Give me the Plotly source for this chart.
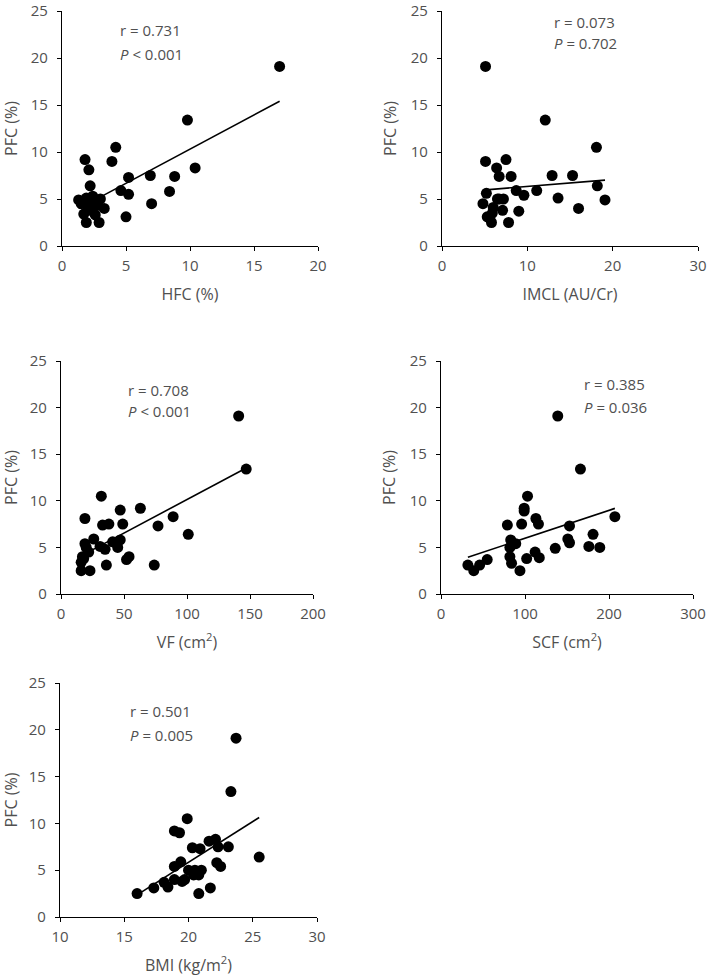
import numpy as np
import plotly.graph_objects as go

# ---------------- data ----------------
hfc = [17.0, 9.8, 4.2, 3.9, 1.8, 2.1, 2.2, 5.2, 6.9, 8.8, 10.4, 4.6, 5.2, 8.4, 7.0,
       5.0, 1.3, 1.9, 2.4, 3.0, 3.3, 2.7, 1.7, 1.9, 2.9, 2.2, 2.6, 1.5, 2.4, 2.0]
pfc_hfc = [19.1, 13.4, 10.5, 9.0, 9.2, 8.1, 6.4, 7.3, 7.5, 7.4, 8.3, 5.9, 5.5, 5.8, 4.5,
           3.1, 4.9, 5.1, 5.3, 5.0, 4.0, 4.3, 3.4, 2.5, 2.5, 3.8, 3.3, 4.5, 4.8, 4.2]

imcl = [5.1, 12.1, 18.1, 5.1, 7.5, 6.4, 6.7, 8.1, 12.9, 15.3, 18.2, 5.2, 4.8, 8.7, 9.6,
        11.1, 13.6, 19.1, 16.0, 6.5, 7.2, 7.1, 9.0, 6.0, 5.3, 5.9, 5.8, 7.8, 6.7, 5.6]
pfc_imcl = [19.1, 13.4, 10.5, 9.0, 9.2, 8.3, 7.4, 7.4, 7.5, 7.5, 6.4, 5.6, 4.5, 5.9, 5.4,
            5.9, 5.1, 4.9, 4.0, 5.0, 5.0, 3.8, 3.7, 4.1, 3.1, 3.5, 2.5, 2.5, 5.0, 3.0]

vf = [141, 147, 32, 47, 63, 19, 33, 38, 49, 77, 89, 101, 26, 19, 41,
      47, 45, 31, 35, 22, 17, 16, 52, 54, 36, 74, 16, 23, 20, 18]
pfc_vf = [19.1, 13.4, 10.5, 9.0, 9.2, 8.1, 7.4, 7.5, 7.5, 7.3, 8.3, 6.4, 5.9, 5.4, 5.6,
          5.8, 5.0, 5.1, 4.8, 4.5, 4.0, 3.4, 3.7, 4.0, 3.1, 3.1, 2.5, 2.5, 5.0, 3.8]

scf = [139, 166, 103, 99, 99, 79, 96, 113, 116, 153, 207, 181, 83, 151, 153,
       89, 82, 136, 176, 189, 112, 117, 82, 84, 102, 94, 32, 39, 46, 55]
pfc_scf = [19.1, 13.4, 10.5, 9.2, 8.9, 7.4, 7.5, 8.1, 7.5, 7.3, 8.3, 6.4, 5.8, 5.9, 5.5,
           5.4, 5.0, 4.9, 5.1, 5.0, 4.5, 3.9, 4.0, 3.3, 3.8, 2.5, 3.1, 2.5, 3.1, 3.7]

bmi = [16.0, 17.3, 18.1, 18.4, 18.9, 18.9, 18.9, 19.3, 19.4, 19.9, 20.0, 20.3, 20.5, 20.4, 20.8,
       20.8, 20.9, 21.0, 21.7, 21.6, 22.1, 22.2, 22.3, 22.5, 23.1, 23.3, 23.7, 25.5, 19.5, 19.7]
pfc_bmi = [2.5, 3.1, 3.7, 3.2, 4.0, 5.4, 9.2, 9.0, 5.9, 10.5, 5.0, 7.4, 5.0, 4.5, 4.5,
           2.5, 7.3, 5.0, 3.1, 8.1, 8.3, 5.8, 7.5, 5.4, 7.5, 13.4, 19.1, 6.4, 3.8, 4.0]

x_titles = ["HFC (%)", "IMCL (AU/Cr)", "VF (cm<sup>2</sup>)", "SCF (cm<sup>2</sup>)", "BMI (kg/m<sup>2</sup>)"]
y_title = "PFC (%)"
r_labels = ["r = 0.731", "r = 0.073", "r = 0.708", "r = 0.385", "r = 0.501"]
p_labels = ["<i>P</i> &lt; 0.001", "<i>P</i> = 0.702", "<i>P</i> &lt; 0.001", "<i>P</i> = 0.036", "<i>P</i> = 0.005"]
x_ranges = [[0, 20], [0, 30], [0, 200], [0, 300], [10, 30]]
x_dticks = [5, 10, 50, 100, 5]
y_range = [0, 25]

# ---------------- layout geometry ----------------
W, H = 709, 976
panels_px = [  # (x0, x1, ytop, ybottom) in pixels
    (62, 318, 11, 246),
    (442, 698, 11, 246),
    (61, 313, 361, 594),
    (441, 693, 361, 594),
    (60, 317, 683, 917),
]
text_pos = [  # (x data, y r-label, y p-label)
    (4.4, 23.0, 20.4),
    (12.9, 23.8, 21.6),
    (51.5, 21.9, 19.6),
    (167.5, 22.5, 20.1),
    (15.3, 22.0, 19.4),
]
datasets = [(hfc, pfc_hfc), (imcl, pfc_imcl), (vf, pfc_vf), (scf, pfc_scf), (bmi, pfc_bmi)]

FONT = "Open Sans"
GRAY = "#505050"

fig = go.Figure()
annotations = []
for i, ((xs, ys), (x0, x1, yt, yb)) in enumerate(zip(datasets, panels_px)):
    n = i + 1
    xa = "x" if n == 1 else f"x{n}"
    ya = "y" if n == 1 else f"y{n}"
    xs = np.array(xs, dtype=float)
    ys = np.array(ys, dtype=float)
    fig.add_trace(go.Scatter(x=xs, y=ys, mode="markers", xaxis=xa, yaxis=ya,
                             marker=dict(size=11, color="black"), showlegend=False,
                             cliponaxis=False))
    k, b = np.polyfit(xs, ys, 1)
    lx = np.array([xs.min(), xs.max()])
    fig.add_trace(go.Scatter(x=lx, y=k * lx + b, mode="lines", xaxis=xa, yaxis=ya,
                             line=dict(color="black", width=1.6), showlegend=False))
    axis_common = dict(showline=True, linecolor="black", linewidth=1.2, ticks="outside",
                       ticklen=4, tickcolor="black", showgrid=False, zeroline=False,
                       automargin=False,
                       tickfont=dict(family=FONT, size=15, color=GRAY))
    fig.update_layout({
        ("xaxis" if n == 1 else f"xaxis{n}"): dict(
            domain=[x0 / W, x1 / W], anchor=ya, range=x_ranges[i], dtick=x_dticks[i],
            tick0=x_ranges[i][0], ticklabelstandoff=2,
            title=dict(text=x_titles[i], font=dict(family=FONT, size=16, color=GRAY), standoff=14),
            **axis_common),
        ("yaxis" if n == 1 else f"yaxis{n}"): dict(
            domain=[1 - yb / H, 1 - yt / H], anchor=xa, range=y_range, dtick=5,
            ticklabelstandoff=6,
            title=dict(text=y_title, font=dict(family=FONT, size=16, color=GRAY), standoff=10),
            **axis_common),
    })
    tx, ty_r, ty_p = text_pos[i]
    for txt, ty in ((r_labels[i], ty_r), (p_labels[i], ty_p)):
        annotations.append(dict(x=tx, y=ty, xref=xa, yref=ya, text=txt, showarrow=False,
                                xanchor="left", yanchor="middle",
                                font=dict(family=FONT, size=15, color=GRAY)))

fig.update_layout(width=W, height=H, margin=dict(l=0, r=0, t=0, b=0),
                  plot_bgcolor="white", paper_bgcolor="white",
                  annotations=annotations, showlegend=False)
fig.write_html("out.html", config={"displayModeBar": False},
               post_script="document.body.style.margin='0px';")
